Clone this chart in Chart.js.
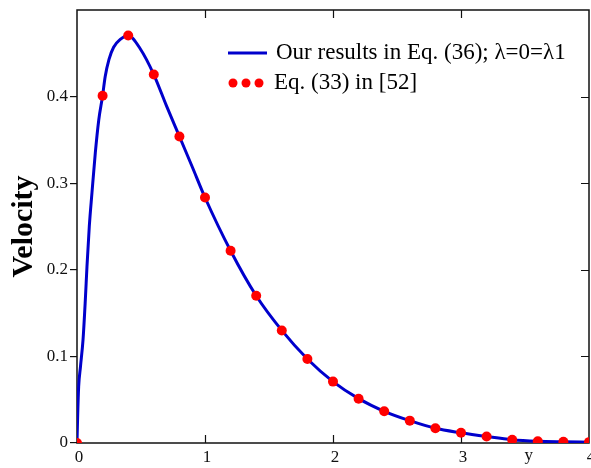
<!DOCTYPE html>
<html>
<head>
<meta charset="utf-8">
<script src="https://cdn.jsdelivr.net/npm/chart.js@4/dist/chart.umd.min.js"></script>
<style>html,body{margin:0;padding:0;background:#fff}</style>
</head>
<body>
<canvas id="chart" width="591" height="468"></canvas>
<script>
// y positions of the reference points (Eq. 33) and their velocities
var dotY = [0, 0.2, 0.4, 0.6, 0.8, 1.0, 1.2, 1.4, 1.6, 1.8, 2.0, 2.2, 2.4, 2.6, 2.8, 3.0, 3.2, 3.4, 3.6, 3.8, 4.0];
var dotVel = [0, 0.401, 0.4705, 0.4255, 0.354, 0.2835, 0.222, 0.170, 0.130, 0.097, 0.0709, 0.0512, 0.0366, 0.0258, 0.017, 0.0118, 0.0075, 0.0037, 0.002, 0.0014, 0.001];

// our results curve (Eq. 36)
var lineY = [0, 0.005, 0.013, 0.027, 0.047, 0.065, 0.078, 0.096, 0.117, 0.143, 0.17, 0.2, 0.22, 0.25, 0.286, 0.338, 0.4, 0.495, 0.6, 0.7, 0.8, 0.9, 1.0,
  1.2, 1.4, 1.6, 1.8, 2.0, 2.2, 2.4, 2.6, 2.8, 3.0, 3.2, 3.4, 3.6, 3.8, 4.0];
var lineVel = [0, 0.03, 0.065, 0.088, 0.119, 0.165, 0.204, 0.25, 0.289, 0.335, 0.373, 0.401, 0.423, 0.443, 0.457, 0.466, 0.4705, 0.455, 0.4255, 0.389, 0.354, 0.319, 0.2835,
  0.222, 0.170, 0.130, 0.097, 0.0709, 0.0512, 0.0366, 0.0258, 0.017, 0.0118, 0.0075, 0.0037, 0.002, 0.0014, 0.001];

var xTicks = [0, 1, 2, 3, 4];
var yTicks = [0, 0.1, 0.2, 0.3, 0.4];

var lineLabel = 'Our results in Eq. (36); \u03bb=0=\u03bb1';
var dotLabel = 'Eq. (33) in [52]';

var serif = 'Liberation Serif';
var blue = '#0000cc';
var red = '#ff0000';

function pts(xs, ys) {
  return xs.map(function (v, i) { return {x: v, y: ys[i]}; });
}

var frame = {
  id: 'frame',
  beforeDatasetsDraw: function (chart) {
    var ctx = chart.ctx, a = chart.chartArea, x = chart.scales.x, y = chart.scales.y;
    ctx.save();
    ctx.strokeStyle = '#111';
    ctx.lineWidth = 1.5;
    ctx.strokeRect(a.left, a.top, a.right - a.left, a.bottom - a.top);
    ctx.beginPath();
    xTicks.slice(1, -1).forEach(function (v) {
      var px = Math.round(x.getPixelForValue(v)) + 0.5;
      ctx.moveTo(px, a.bottom); ctx.lineTo(px, a.bottom - 8);
      ctx.moveTo(px, a.top); ctx.lineTo(px, a.top + 8);
    });
    yTicks.slice(1).forEach(function (v) {
      var py = Math.round(y.getPixelForValue(v)) + 0.5;
      ctx.moveTo(a.right, py); ctx.lineTo(a.right - 8, py);
    });
    ctx.lineWidth = 1.2;
    ctx.stroke();
    ctx.restore();
  },
  afterDraw: function (chart) {
    var ctx = chart.ctx, x = chart.scales.x, a = chart.chartArea;
    ctx.save();
    // x tick labels and the axis name under the x axis
    ctx.fillStyle = '#111';
    ctx.font = '17px "' + serif + '"';
    ctx.textAlign = 'center';
    ctx.textBaseline = 'middle';
    xTicks.forEach(function (v) {
      ctx.fillText(String(v), x.getPixelForValue(v) + 2, a.bottom + 15);
    });
    ctx.fillText('y', x.getPixelForValue(3.53), a.bottom + 13);

    // legend inside the plot
    ctx.strokeStyle = blue;
    ctx.lineWidth = 3;
    ctx.beginPath();
    ctx.moveTo(228, 53); ctx.lineTo(267, 53);
    ctx.stroke();
    ctx.fillStyle = red;
    [233, 246, 259].forEach(function (cx) {
      ctx.beginPath(); ctx.arc(cx, 83, 4.5, 0, Math.PI * 2); ctx.fill();
    });
    ctx.fillStyle = '#000';
    ctx.font = '23px "' + serif + '"';
    ctx.textAlign = 'left';
    ctx.fillText(lineLabel, 276, 53);
    ctx.fillText(dotLabel, 274, 83);
    ctx.restore();
  }
};

var context = document.getElementById('chart').getContext('2d');
var chart = new Chart(context, {
  type: 'scatter',
  data: {
    datasets: [
      {
        label: dotLabel,
        data: pts(dotY, dotVel),
        showLine: false,
        pointRadius: 5,
        pointBackgroundColor: red,
        pointBorderWidth: 0,
        order: 0
      },
      {
        label: lineLabel,
        data: pts(lineY, lineVel),
        showLine: true,
        borderColor: blue,
        borderWidth: 3,
        pointRadius: 0,
        cubicInterpolationMode: 'monotone',
        order: 1
      }
    ]
  },
  options: {
    responsive: false,
    animation: false,
    layout: {autoPadding: false, padding: {top: 10, right: 2, left: 0, bottom: 0}},
    plugins: {legend: {display: false}, tooltip: {enabled: false}},
    scales: {
      x: {
        type: 'linear', min: 0, max: 4,
        afterBuildTicks: function (s) { s.ticks = xTicks.map(function (v) { return {value: v}; }); },
        afterFit: function (s) { s.height = 25; },
        ticks: {display: false},
        grid: {display: false, drawTicks: false},
        border: {display: false}
      },
      y: {
        min: 0, max: 0.5,
        afterBuildTicks: function (s) { s.ticks = yTicks.map(function (v) { return {value: v}; }); },
        afterFit: function (s) { s.width = 77; s.paddingTop = 0; s.paddingBottom = 0; },
        ticks: {
          font: {family: serif, size: 17}, color: '#111', padding: 2,
          callback: function (v) { return String(+v.toFixed(1)); }
        },
        grid: {display: true, drawOnChartArea: false, drawTicks: true, tickLength: 7, color: '#111', lineWidth: 1.2},
        border: {display: false},
        title: {display: true, text: 'Velocity', color: '#000', font: {family: serif, size: 30, weight: 'bold'}, padding: {top: 6, bottom: 0}}
      }
    }
  },
  plugins: [frame]
});
</script>
</body>
</html>
